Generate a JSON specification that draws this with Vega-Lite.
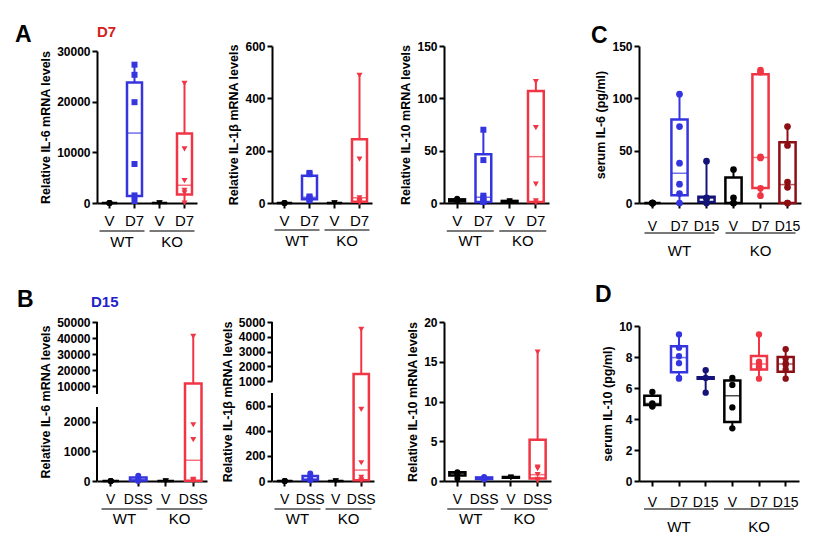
{
"$schema":"https://vega.github.io/schema/vega-lite/v6.json",
"padding":{"left":15,"top":24,"right":5,"bottom":5},
"background":"white",
"config":{"font":"Liberation Sans","view":{"stroke":null},
 "axis":{"domainColor":"black","domainWidth":2,"tickColor":"black","tickWidth":2,"tickSize":5,"labelColor":"black","titleColor":"black","grid":false,"labelOverlap":false},
 "axisY":{"labelFontWeight":"bold","labelFontSize":12,"titleFontWeight":"bold","titleFontSize":12.5,"format":"d"},
 "axisX":{"labelAngle":0,"title":null},
 "bar":{"strokeWidth":2.5},
 "title":{"font":"Liberation Sans","fontWeight":"bold","fontSize":23,"anchor":"start","frame":"group","baseline":"alphabetic","color":"black"}},
"datasets":{
"box":[
{"p":"A1","g":"WT V","min":0,"q1":0,"med":0,"q3":0,"max":0},
{"p":"A1","g":"WT D7","min":0,"q1":1400,"med":13800,"q3":23800,"max":27400},
{"p":"A1","g":"KO V","min":0,"q1":0,"med":0,"q3":0,"max":0},
{"p":"A1","g":"KO D7","min":0,"q1":1700,"med":3500,"q3":13700,"max":23600},
{"p":"A2","g":"WT V","min":0,"q1":0,"med":0,"q3":0,"max":2},
{"p":"A2","g":"WT D7","min":10,"q1":14,"med":22,"q3":104,"max":117},
{"p":"A2","g":"KO V","min":0,"q1":0,"med":0,"q3":0,"max":1},
{"p":"A2","g":"KO D7","min":0,"q1":5,"med":20,"q3":244,"max":488},
{"p":"A3","g":"WT V","min":1,"q1":1.5,"med":2.5,"q3":3.5,"max":4},
{"p":"A3","g":"WT D7","min":0,"q1":1,"med":5.5,"q3":46.6,"max":70},
{"p":"A3","g":"KO V","min":0.5,"q1":1,"med":1.5,"q3":2,"max":2},
{"p":"A3","g":"KO D7","min":0,"q1":1,"med":44.3,"q3":107,"max":116},
{"p":"C","g":"WT V","min":0,"q1":0,"med":0,"q3":0,"max":0},
{"p":"C","g":"WT D7","min":0,"q1":7.3,"med":28.4,"q3":79.8,"max":104},
{"p":"C","g":"WT D15","min":0,"q1":1,"med":4.5,"q3":6,"max":40},
{"p":"C","g":"KO V","min":0,"q1":0,"med":0,"q3":24.3,"max":32.6},
{"p":"C","g":"KO D7","min":7.3,"q1":14.4,"med":43.5,"q3":122.9,"max":127},
{"p":"C","g":"KO D15","min":0,"q1":0,"med":17.6,"q3":58,"max":73.4},
{"p":"B1","g":"WT V","min":0,"q1":0,"med":0,"q3":0,"max":0},
{"p":"B1","g":"WT DSS","min":0,"q1":15,"med":35,"q3":120,"max":200},
{"p":"B1","g":"KO V","min":0,"q1":0,"med":0,"q3":0,"max":0},
{"p":"B1","g":"KO DSS","min":0,"q1":5,"med":700,"q3":11500,"max":41000},
{"p":"B2","g":"WT V","min":0,"q1":0,"med":0,"q3":0,"max":0},
{"p":"B2","g":"WT DSS","min":5,"q1":8,"med":15,"q3":40,"max":60},
{"p":"B2","g":"KO V","min":0,"q1":0,"med":0,"q3":0,"max":0},
{"p":"B2","g":"KO DSS","min":0,"q1":5,"med":87,"q3":1475,"max":4500},
{"p":"B3","g":"WT V","min":0.2,"q1":0.7,"med":0.95,"q3":1.1,"max":1.15},
{"p":"B3","g":"WT DSS","min":0.2,"q1":0.25,"med":0.35,"q3":0.45,"max":0.5},
{"p":"B3","g":"KO V","min":0.35,"q1":0.4,"med":0.45,"q3":0.5,"max":0.5},
{"p":"B3","g":"KO DSS","min":0,"q1":0.3,"med":0.8,"q3":5.2,"max":16.2},
{"p":"D","g":"WT V","min":4.77,"q1":4.9,"med":5.0,"q3":5.5,"max":5.76},
{"p":"D","g":"WT D7","min":6.62,"q1":7.01,"med":7.96,"q3":8.69,"max":9.46},
{"p":"D","g":"WT D15","min":5.7,"q1":6.6,"med":6.65,"q3":6.7,"max":7.14},
{"p":"D","g":"KO V","min":3.42,"q1":3.8,"med":5.5,"q3":6.49,"max":6.67},
{"p":"D","g":"KO D7","min":6.62,"q1":7.2,"med":7.55,"q3":8.06,"max":9.46},
{"p":"D","g":"KO D15","min":6.62,"q1":7.05,"med":7.55,"q3":8.0,"max":8.5}
],
"pts":[
{"p":"A1","g":"WT V","v":0},{"p":"A1","g":"WT V","v":0},{"p":"A1","g":"WT V","v":0},
{"p":"A1","g":"WT D7","v":27300},{"p":"A1","g":"WT D7","v":25300},{"p":"A1","g":"WT D7","v":19900},{"p":"A1","g":"WT D7","v":7700},{"p":"A1","g":"WT D7","v":1500},{"p":"A1","g":"WT D7","v":400},
{"p":"A1","g":"KO V","v":0},{"p":"A1","g":"KO V","v":0},{"p":"A1","g":"KO V","v":0},
{"p":"A1","g":"KO D7","v":23600},{"p":"A1","g":"KO D7","v":10700},{"p":"A1","g":"KO D7","v":4400},{"p":"A1","g":"KO D7","v":2500},{"p":"A1","g":"KO D7","v":2000},{"p":"A1","g":"KO D7","v":0},
{"p":"A2","g":"WT V","v":0},{"p":"A2","g":"WT V","v":0},{"p":"A2","g":"WT V","v":0},
{"p":"A2","g":"WT D7","v":115},{"p":"A2","g":"WT D7","v":110},{"p":"A2","g":"WT D7","v":25},{"p":"A2","g":"WT D7","v":20},{"p":"A2","g":"WT D7","v":15},{"p":"A2","g":"WT D7","v":10},
{"p":"A2","g":"KO V","v":0},{"p":"A2","g":"KO V","v":0},{"p":"A2","g":"KO V","v":0},
{"p":"A2","g":"KO D7","v":488},{"p":"A2","g":"KO D7","v":168},{"p":"A2","g":"KO D7","v":20},{"p":"A2","g":"KO D7","v":10},{"p":"A2","g":"KO D7","v":5},{"p":"A2","g":"KO D7","v":0},
{"p":"A3","g":"WT V","v":4},{"p":"A3","g":"WT V","v":3},{"p":"A3","g":"WT V","v":2},
{"p":"A3","g":"WT D7","v":70},{"p":"A3","g":"WT D7","v":41},{"p":"A3","g":"WT D7","v":7},{"p":"A3","g":"WT D7","v":5},{"p":"A3","g":"WT D7","v":2},{"p":"A3","g":"WT D7","v":1},
{"p":"A3","g":"KO V","v":2},{"p":"A3","g":"KO V","v":1.5},{"p":"A3","g":"KO V","v":1},
{"p":"A3","g":"KO D7","v":116},{"p":"A3","g":"KO D7","v":72},{"p":"A3","g":"KO D7","v":18},{"p":"A3","g":"KO D7","v":2},{"p":"A3","g":"KO D7","v":0},
{"p":"C","g":"WT V","v":0},{"p":"C","g":"WT V","v":0},{"p":"C","g":"WT V","v":0},{"p":"C","g":"WT V","v":0},{"p":"C","g":"WT V","v":0},
{"p":"C","g":"WT D7","v":104},{"p":"C","g":"WT D7","v":73},{"p":"C","g":"WT D7","v":38},{"p":"C","g":"WT D7","v":18},{"p":"C","g":"WT D7","v":9},{"p":"C","g":"WT D7","v":0},
{"p":"C","g":"WT D15","v":40},{"p":"C","g":"WT D15","v":5},{"p":"C","g":"WT D15","v":4},{"p":"C","g":"WT D15","v":0},
{"p":"C","g":"KO V","v":32},{"p":"C","g":"KO V","v":5},{"p":"C","g":"KO V","v":0},{"p":"C","g":"KO V","v":0},
{"p":"C","g":"KO D7","v":127},{"p":"C","g":"KO D7","v":125},{"p":"C","g":"KO D7","v":44},{"p":"C","g":"KO D7","v":43},{"p":"C","g":"KO D7","v":14},{"p":"C","g":"KO D7","v":7},
{"p":"C","g":"KO D15","v":73},{"p":"C","g":"KO D15","v":55},{"p":"C","g":"KO D15","v":20},{"p":"C","g":"KO D15","v":15},{"p":"C","g":"KO D15","v":0},{"p":"C","g":"KO D15","v":0},
{"p":"B1","g":"WT V","v":0},{"p":"B1","g":"WT V","v":0},{"p":"B1","g":"WT V","v":0},
{"p":"B1","g":"WT DSS","v":180},{"p":"B1","g":"WT DSS","v":60},{"p":"B1","g":"WT DSS","v":20},{"p":"B1","g":"WT DSS","v":0},
{"p":"B1","g":"KO V","v":0},{"p":"B1","g":"KO V","v":0},{"p":"B1","g":"KO V","v":0},
{"p":"B1","g":"KO DSS","v":41000},{"p":"B1","g":"KO DSS","v":1900},{"p":"B1","g":"KO DSS","v":1400},{"p":"B1","g":"KO DSS","v":60},{"p":"B1","g":"KO DSS","v":20},{"p":"B1","g":"KO DSS","v":0},
{"p":"B2","g":"WT V","v":0},{"p":"B2","g":"WT V","v":0},{"p":"B2","g":"WT V","v":0},
{"p":"B2","g":"WT DSS","v":60},{"p":"B2","g":"WT DSS","v":20},{"p":"B2","g":"WT DSS","v":10},{"p":"B2","g":"WT DSS","v":5},
{"p":"B2","g":"KO V","v":0},{"p":"B2","g":"KO V","v":0},{"p":"B2","g":"KO V","v":0},
{"p":"B2","g":"KO DSS","v":4500},{"p":"B2","g":"KO DSS","v":570},{"p":"B2","g":"KO DSS","v":145},{"p":"B2","g":"KO DSS","v":30},{"p":"B2","g":"KO DSS","v":10},{"p":"B2","g":"KO DSS","v":0},
{"p":"B3","g":"WT V","v":1.1},{"p":"B3","g":"WT V","v":1.0},{"p":"B3","g":"WT V","v":0.9},{"p":"B3","g":"WT V","v":0.3},
{"p":"B3","g":"WT DSS","v":0.5},{"p":"B3","g":"WT DSS","v":0.4},{"p":"B3","g":"WT DSS","v":0.3},{"p":"B3","g":"WT DSS","v":0.2},
{"p":"B3","g":"KO V","v":0.5},{"p":"B3","g":"KO V","v":0.45},{"p":"B3","g":"KO V","v":0.4},
{"p":"B3","g":"KO DSS","v":16.2},{"p":"B3","g":"KO DSS","v":1.75},{"p":"B3","g":"KO DSS","v":1.55},{"p":"B3","g":"KO DSS","v":0.8},{"p":"B3","g":"KO DSS","v":0.2},{"p":"B3","g":"KO DSS","v":0},
{"p":"D","g":"WT V","v":5.75},{"p":"D","g":"WT V","v":5.0},{"p":"D","g":"WT V","v":4.95},{"p":"D","g":"WT V","v":4.85},{"p":"D","g":"WT V","v":4.8},
{"p":"D","g":"WT D7","v":9.45},{"p":"D","g":"WT D7","v":8.6},{"p":"D","g":"WT D7","v":8.05},{"p":"D","g":"WT D7","v":7.6},{"p":"D","g":"WT D7","v":6.65},{"p":"D","g":"WT D7","v":6.6},
{"p":"D","g":"WT D15","v":7.15},{"p":"D","g":"WT D15","v":6.65},{"p":"D","g":"WT D15","v":5.7},
{"p":"D","g":"KO V","v":6.65},{"p":"D","g":"KO V","v":6.2},{"p":"D","g":"KO V","v":4.75},{"p":"D","g":"KO V","v":3.4},
{"p":"D","g":"KO D7","v":9.45},{"p":"D","g":"KO D7","v":7.7},{"p":"D","g":"KO D7","v":7.6},{"p":"D","g":"KO D7","v":7.4},{"p":"D","g":"KO D7","v":7.3},{"p":"D","g":"KO D7","v":6.6},
{"p":"D","g":"KO D15","v":8.5},{"p":"D","g":"KO D15","v":7.9},{"p":"D","g":"KO D15","v":7.6},{"p":"D","g":"KO D15","v":7.5},{"p":"D","g":"KO D15","v":7.2},{"p":"D","g":"KO D15","v":6.6}
]
},
"columns":4,
"spacing":{"row":119,"column":60},
"bounds":"flush",
"concat":[
  {"width":114.5,"height":157,
   "title":{"text":"A","dx":-82,"offset":-22},
   "resolve":{"scale":{"x":"independent"}},
   "layer":[
    {"encoding":{"x":{"field":"g","type":"nominal","scale":{"domain":["WT V","WT D7","KO V","KO D7"],"range":[0,100],"paddingInner":0,"paddingOuter":0},"axis":{"labelExpr":"split(datum.label,' ')[1]","labelFontSize":15,"labelPadding":5}}},
     "layer":[
      {"data":{"name":"box"},"transform":[{"filter":"datum.p=='A1'"}],"mark":{"type":"rule","strokeWidth":2},
       "encoding":{"y":{"field":"min","type":"quantitative","title":"Relative  IL-6 mRNA levels","scale":{"domain":[0,30000],"range":[157,5],"nice":false,"zero":false},"axis":{"values":[0,10000,20000,30000],"tickCount":30,"labelOverlap":false}},"y2":{"field":"max"},
       "color":{"field":"g","type":"nominal","scale":{"domain":["WT V","WT D7","WT DSS","WT D15","KO V","KO D7","KO DSS","KO D15"],"range":["#000000","#3535e0","#3535e0","#141478","#000000","#f03545","#f03545","#8c0f14"]},"legend":null}}},
      {"data":{"name":"box"},"transform":[{"filter":"datum.p=='A1'"}],"mark":{"type":"bar","fill":"white","strokeWidth":2.5,"width":{"band":0.6}},
       "encoding":{"y":{"field":"q1","type":"quantitative","title":"Relative  IL-6 mRNA levels"},"y2":{"field":"q3"},
       "stroke":{"field":"g","type":"nominal","scale":{"domain":["WT V","WT D7","WT DSS","WT D15","KO V","KO D7","KO DSS","KO D15"],"range":["#000000","#3535e0","#3535e0","#141478","#000000","#f03545","#f03545","#8c0f14"]},"legend":null}}},
      {"data":{"name":"box"},"transform":[{"filter":"datum.p=='A1'"}],"mark":{"type":"tick","orient":"horizontal","thickness":1.5,"size":16},
       "encoding":{"y":{"field":"med","type":"quantitative","title":"Relative  IL-6 mRNA levels"},
       "color":{"field":"g","type":"nominal","scale":{"domain":["WT V","WT D7","WT DSS","WT D15","KO V","KO D7","KO DSS","KO D15"],"range":["#000000","#3535e0","#3535e0","#141478","#000000","#f03545","#f03545","#8c0f14"]},"legend":null}}},
      {"data":{"name":"pts"},"transform":[{"filter":"datum.p=='A1'"}],"mark":{"type":"point","filled":true,"size":36,"opacity":1},
       "encoding":{"y":{"field":"v","type":"quantitative","title":"Relative  IL-6 mRNA levels"},
       "color":{"field":"g","type":"nominal","scale":{"domain":["WT V","WT D7","WT DSS","WT D15","KO V","KO D7","KO DSS","KO D15"],"range":["#000000","#3535e0","#3535e0","#141478","#000000","#f03545","#f03545","#8c0f14"]},"legend":null},
       "shape":{"field":"g","type":"nominal","scale":{"domain":["WT V","WT D7","WT DSS","WT D15","KO V","KO D7","KO DSS","KO D15"],"range":["circle","square","circle","circle","triangle-down","triangle-down","triangle-down","triangle-down"]},"legend":null}}}
     ]},
    {"encoding":{"x":{"field":"geno","type":"nominal","scale":{"domain":["WT","KO"],"range":[0,100],"paddingInner":0,"paddingOuter":0},"axis":null}},
     "layer":[
      {"data":{"values":[{"geno":"WT"},{"geno":"KO"}]},"mark":{"type":"tick","orient":"horizontal","size":45,"thickness":1.5,"color":"black"},"encoding":{"y":{"datum":-5527,"title":"Relative  IL-6 mRNA levels"}}},
      {"data":{"values":[{"geno":"WT"},{"geno":"KO"}]},"mark":{"type":"text","fontSize":15,"baseline":"alphabetic","color":"black"},"encoding":{"y":{"datum":-8684,"title":"Relative  IL-6 mRNA levels"},"text":{"field":"geno"}}},
      {"data":{"values":[{"lab":"D7"}]},"mark":{"type":"text","fontSize":15,"fontWeight":"bold","align":"left","baseline":"alphabetic","color":"#d42020"},"encoding":{"x":{"datum":"WT","bandPosition":0},"y":{"datum":32760,"title":"Relative  IL-6 mRNA levels"},"text":{"field":"lab"}}}
     ]}
   ]},
  {"width":111.5,"height":157,
   "resolve":{"scale":{"x":"independent"}},
   "layer":[
    {"encoding":{"x":{"field":"g","type":"nominal","scale":{"domain":["WT V","WT D7","KO V","KO D7"],"range":[0,100],"paddingInner":0,"paddingOuter":0},"axis":{"labelExpr":"split(datum.label,' ')[1]","labelFontSize":15,"labelPadding":5}}},
     "layer":[
      {"data":{"name":"box"},"transform":[{"filter":"datum.p=='A2'"}],"mark":{"type":"rule","strokeWidth":2},
       "encoding":{"y":{"field":"min","type":"quantitative","title":"Relative  IL-1β mRNA levels","scale":{"domain":[0,600],"nice":false,"zero":false},"axis":{"values":[0,200,400,600],"tickCount":30,"labelOverlap":false}},"y2":{"field":"max"},
       "color":{"field":"g","type":"nominal","scale":{"domain":["WT V","WT D7","WT DSS","WT D15","KO V","KO D7","KO DSS","KO D15"],"range":["#000000","#3535e0","#3535e0","#141478","#000000","#f03545","#f03545","#8c0f14"]},"legend":null}}},
      {"data":{"name":"box"},"transform":[{"filter":"datum.p=='A2'"}],"mark":{"type":"bar","fill":"white","strokeWidth":2.5,"width":{"band":0.6}},
       "encoding":{"y":{"field":"q1","type":"quantitative","title":"Relative  IL-1β mRNA levels"},"y2":{"field":"q3"},
       "stroke":{"field":"g","type":"nominal","scale":{"domain":["WT V","WT D7","WT DSS","WT D15","KO V","KO D7","KO DSS","KO D15"],"range":["#000000","#3535e0","#3535e0","#141478","#000000","#f03545","#f03545","#8c0f14"]},"legend":null}}},
      {"data":{"name":"box"},"transform":[{"filter":"datum.p=='A2'"}],"mark":{"type":"tick","orient":"horizontal","thickness":1.5,"size":16},
       "encoding":{"y":{"field":"med","type":"quantitative","title":"Relative  IL-1β mRNA levels"},
       "color":{"field":"g","type":"nominal","scale":{"domain":["WT V","WT D7","WT DSS","WT D15","KO V","KO D7","KO DSS","KO D15"],"range":["#000000","#3535e0","#3535e0","#141478","#000000","#f03545","#f03545","#8c0f14"]},"legend":null}}},
      {"data":{"name":"pts"},"transform":[{"filter":"datum.p=='A2'"}],"mark":{"type":"point","filled":true,"size":36,"opacity":1},
       "encoding":{"y":{"field":"v","type":"quantitative","title":"Relative  IL-1β mRNA levels"},
       "color":{"field":"g","type":"nominal","scale":{"domain":["WT V","WT D7","WT DSS","WT D15","KO V","KO D7","KO DSS","KO D15"],"range":["#000000","#3535e0","#3535e0","#141478","#000000","#f03545","#f03545","#8c0f14"]},"legend":null},
       "shape":{"field":"g","type":"nominal","scale":{"domain":["WT V","WT D7","WT DSS","WT D15","KO V","KO D7","KO DSS","KO D15"],"range":["circle","square","circle","circle","triangle-down","triangle-down","triangle-down","triangle-down"]},"legend":null}}}
     ]},
    {"data":{"values":[{"geno":"WT"},{"geno":"KO"}]},
     "encoding":{"x":{"field":"geno","type":"nominal","scale":{"domain":["WT","KO"],"range":[0,100],"paddingInner":0,"paddingOuter":0},"axis":null}},
     "layer":[
      {"mark":{"type":"tick","orient":"horizontal","size":45,"thickness":1.5,"color":"black"},"encoding":{"y":{"datum":-103,"title":"Relative  IL-1β mRNA levels"}}},
      {"mark":{"type":"text","fontSize":15,"baseline":"alphabetic","color":"black"},"encoding":{"y":{"datum":-164,"title":"Relative  IL-1β mRNA levels"},"text":{"field":"geno"}}}
     ]}
   ]},
  {"width":134.5,"height":157,
   "resolve":{"scale":{"x":"independent"}},
   "layer":[
    {"encoding":{"x":{"field":"g","type":"nominal","scale":{"domain":["WT V","WT D7","KO V","KO D7"],"range":[0,105],"paddingInner":0,"paddingOuter":0},"axis":{"labelExpr":"split(datum.label,' ')[1]","labelFontSize":15,"labelPadding":5}}},
     "layer":[
      {"data":{"name":"box"},"transform":[{"filter":"datum.p=='A3'"}],"mark":{"type":"rule","strokeWidth":2},
       "encoding":{"y":{"field":"min","type":"quantitative","title":"Relative IL-10 mRNA levels","scale":{"domain":[0,150],"nice":false,"zero":false},"axis":{"values":[0,50,100,150],"tickCount":30,"labelOverlap":false}},"y2":{"field":"max"},
       "color":{"field":"g","type":"nominal","scale":{"domain":["WT V","WT D7","WT DSS","WT D15","KO V","KO D7","KO DSS","KO D15"],"range":["#000000","#3535e0","#3535e0","#141478","#000000","#f03545","#f03545","#8c0f14"]},"legend":null}}},
      {"data":{"name":"box"},"transform":[{"filter":"datum.p=='A3'"}],"mark":{"type":"bar","fill":"white","strokeWidth":2.5,"width":{"band":0.6}},
       "encoding":{"y":{"field":"q1","type":"quantitative","title":"Relative IL-10 mRNA levels"},"y2":{"field":"q3"},
       "stroke":{"field":"g","type":"nominal","scale":{"domain":["WT V","WT D7","WT DSS","WT D15","KO V","KO D7","KO DSS","KO D15"],"range":["#000000","#3535e0","#3535e0","#141478","#000000","#f03545","#f03545","#8c0f14"]},"legend":null}}},
      {"data":{"name":"box"},"transform":[{"filter":"datum.p=='A3'"}],"mark":{"type":"tick","orient":"horizontal","thickness":1.5,"size":16},
       "encoding":{"y":{"field":"med","type":"quantitative","title":"Relative IL-10 mRNA levels"},
       "color":{"field":"g","type":"nominal","scale":{"domain":["WT V","WT D7","WT DSS","WT D15","KO V","KO D7","KO DSS","KO D15"],"range":["#000000","#3535e0","#3535e0","#141478","#000000","#f03545","#f03545","#8c0f14"]},"legend":null}}},
      {"data":{"name":"pts"},"transform":[{"filter":"datum.p=='A3'"}],"mark":{"type":"point","filled":true,"size":36,"opacity":1},
       "encoding":{"y":{"field":"v","type":"quantitative","title":"Relative IL-10 mRNA levels"},
       "color":{"field":"g","type":"nominal","scale":{"domain":["WT V","WT D7","WT DSS","WT D15","KO V","KO D7","KO DSS","KO D15"],"range":["#000000","#3535e0","#3535e0","#141478","#000000","#f03545","#f03545","#8c0f14"]},"legend":null},
       "shape":{"field":"g","type":"nominal","scale":{"domain":["WT V","WT D7","WT DSS","WT D15","KO V","KO D7","KO DSS","KO D15"],"range":["circle","square","circle","circle","triangle-down","triangle-down","triangle-down","triangle-down"]},"legend":null}}}
     ]},
    {"data":{"values":[{"geno":"WT"},{"geno":"KO"}]},
     "encoding":{"x":{"field":"geno","type":"nominal","scale":{"domain":["WT","KO"],"range":[0,105],"paddingInner":0,"paddingOuter":0},"axis":null}},
     "layer":[
      {"mark":{"type":"tick","orient":"horizontal","size":47,"thickness":1.5,"color":"black"},"encoding":{"y":{"datum":-26.75,"title":"Relative IL-10 mRNA levels"}}},
      {"mark":{"type":"text","fontSize":15,"baseline":"alphabetic","color":"black"},"encoding":{"y":{"datum":-41.1,"title":"Relative IL-10 mRNA levels"},"text":{"field":"geno"}}}
     ]}
   ]},
  {"width":162,"height":157,
   "title":{"text":"C","dx":-48,"offset":-8},
   "resolve":{"scale":{"x":"independent"}},
   "layer":[
    {"encoding":{"x":{"field":"g","type":"nominal","scale":{"domain":["WT V","WT D7","WT D15","KO V","KO D7","KO D15"],"range":[0,162],"paddingInner":0,"paddingOuter":0},"axis":{"labelExpr":"split(datum.label,' ')[1]","labelFontSize":14,"labelPadding":11}}},
     "layer":[
      {"data":{"name":"box"},"transform":[{"filter":"datum.p=='C'"}],"mark":{"type":"rule","strokeWidth":2},
       "encoding":{"y":{"field":"min","type":"quantitative","title":"serum IL-6  (pg/ml)","scale":{"domain":[0,150],"nice":false,"zero":false},"axis":{"values":[0,50,100,150],"tickCount":30,"labelOverlap":false}},"y2":{"field":"max"},
       "color":{"field":"g","type":"nominal","scale":{"domain":["WT V","WT D7","WT DSS","WT D15","KO V","KO D7","KO DSS","KO D15"],"range":["#000000","#3535e0","#3535e0","#141478","#000000","#f03545","#f03545","#8c0f14"]},"legend":null}}},
      {"data":{"name":"box"},"transform":[{"filter":"datum.p=='C'"}],"mark":{"type":"bar","fill":"white","strokeWidth":2.5,"width":{"band":0.6}},
       "encoding":{"y":{"field":"q1","type":"quantitative","title":"serum IL-6  (pg/ml)"},"y2":{"field":"q3"},
       "stroke":{"field":"g","type":"nominal","scale":{"domain":["WT V","WT D7","WT DSS","WT D15","KO V","KO D7","KO DSS","KO D15"],"range":["#000000","#3535e0","#3535e0","#141478","#000000","#f03545","#f03545","#8c0f14"]},"legend":null}}},
      {"data":{"name":"box"},"transform":[{"filter":"datum.p=='C'"}],"mark":{"type":"tick","orient":"horizontal","thickness":1.5,"size":16},
       "encoding":{"y":{"field":"med","type":"quantitative","title":"serum IL-6  (pg/ml)"},
       "color":{"field":"g","type":"nominal","scale":{"domain":["WT V","WT D7","WT DSS","WT D15","KO V","KO D7","KO DSS","KO D15"],"range":["#000000","#3535e0","#3535e0","#141478","#000000","#f03545","#f03545","#8c0f14"]},"legend":null}}},
      {"data":{"name":"pts"},"transform":[{"filter":"datum.p=='C'"}],"mark":{"type":"point","filled":true,"size":45,"opacity":1},
       "encoding":{"y":{"field":"v","type":"quantitative","title":"serum IL-6  (pg/ml)"},
       "color":{"field":"g","type":"nominal","scale":{"domain":["WT V","WT D7","WT DSS","WT D15","KO V","KO D7","KO DSS","KO D15"],"range":["#000000","#3535e0","#3535e0","#141478","#000000","#f03545","#f03545","#8c0f14"]},"legend":null}}}
     ]},
    {"data":{"values":[{"geno":"WT"},{"geno":"KO"}]},
     "encoding":{"x":{"field":"geno","type":"nominal","scale":{"domain":["WT","KO"],"range":[0,162],"paddingInner":0,"paddingOuter":0},"axis":null}},
     "layer":[
      {"mark":{"type":"tick","orient":"horizontal","size":70,"thickness":1.5,"color":"black"},"encoding":{"y":{"datum":-28.66,"title":"serum IL-6  (pg/ml)"}}},
      {"mark":{"type":"text","fontSize":15,"baseline":"alphabetic","color":"black"},"encoding":{"y":{"datum":-50.6,"title":"serum IL-6  (pg/ml)"},"text":{"field":"geno"}}}
     ]}
   ]},
  {"width":114.5,"height":159,
   "title":{"text":"B","dx":-80,"offset":-17},
   "resolve":{"scale":{"x":"independent"}},
   "layer":[
    {"encoding":{"x":{"field":"g","type":"nominal","scale":{"domain":["WT V","WT DSS","KO V","KO DSS"],"range":[0,110],"paddingInner":0,"paddingOuter":0},"axis":{"labelExpr":"split(datum.label,' ')[1]","labelFontSize":14,"labelPadding":6}}},
     "layer":[
      {"data":{"values":[{"a":0,"b":2500},{"a":5000,"b":50000}]},"mark":{"type":"rule","strokeWidth":2,"color":"black"},
       "encoding":{"x":{"value":0},"y":{"field":"a","type":"quantitative","title":"Relative IL-6 mRNA levels","scale":{"domain":[0,2500,5000,50000],"range":[159,85,72,0],"nice":false,"zero":false},"axis":{"values":[0,1000,2000,10000,20000,30000,40000,50000],"tickCount":30,"domain":false,"labelOverlap":false}},"y2":{"field":"b"}}},
      {"data":{"name":"box"},"transform":[{"filter":"datum.p=='B1'"}],"mark":{"type":"rule","strokeWidth":2},
       "encoding":{"y":{"field":"min","type":"quantitative","title":"Relative IL-6 mRNA levels"},"y2":{"field":"max"},
       "color":{"field":"g","type":"nominal","scale":{"domain":["WT V","WT D7","WT DSS","WT D15","KO V","KO D7","KO DSS","KO D15"],"range":["#000000","#3535e0","#3535e0","#141478","#000000","#f03545","#f03545","#8c0f14"]},"legend":null}}},
      {"data":{"name":"box"},"transform":[{"filter":"datum.p=='B1'"}],"mark":{"type":"bar","fill":"white","strokeWidth":2.5,"width":{"band":0.6}},
       "encoding":{"y":{"field":"q1","type":"quantitative","title":"Relative IL-6 mRNA levels"},"y2":{"field":"q3"},
       "stroke":{"field":"g","type":"nominal","scale":{"domain":["WT V","WT D7","WT DSS","WT D15","KO V","KO D7","KO DSS","KO D15"],"range":["#000000","#3535e0","#3535e0","#141478","#000000","#f03545","#f03545","#8c0f14"]},"legend":null}}},
      {"data":{"name":"box"},"transform":[{"filter":"datum.p=='B1'"}],"mark":{"type":"tick","orient":"horizontal","thickness":1.5,"size":16},
       "encoding":{"y":{"field":"med","type":"quantitative","title":"Relative IL-6 mRNA levels"},
       "color":{"field":"g","type":"nominal","scale":{"domain":["WT V","WT D7","WT DSS","WT D15","KO V","KO D7","KO DSS","KO D15"],"range":["#000000","#3535e0","#3535e0","#141478","#000000","#f03545","#f03545","#8c0f14"]},"legend":null}}},
      {"data":{"name":"pts"},"transform":[{"filter":"datum.p=='B1'"}],"mark":{"type":"point","filled":true,"size":36,"opacity":1},
       "encoding":{"y":{"field":"v","type":"quantitative","title":"Relative IL-6 mRNA levels"},
       "color":{"field":"g","type":"nominal","scale":{"domain":["WT V","WT D7","WT DSS","WT D15","KO V","KO D7","KO DSS","KO D15"],"range":["#000000","#3535e0","#3535e0","#141478","#000000","#f03545","#f03545","#8c0f14"]},"legend":null},
       "shape":{"field":"g","type":"nominal","scale":{"domain":["WT V","WT D7","WT DSS","WT D15","KO V","KO D7","KO DSS","KO D15"],"range":["circle","square","circle","circle","triangle-down","triangle-down","triangle-down","triangle-down"]},"legend":null}}}
     ]},
    {"encoding":{"x":{"field":"geno","type":"nominal","scale":{"domain":["WT","KO"],"range":[0,110],"paddingInner":0,"paddingOuter":0},"axis":null}},
     "layer":[
      {"data":{"values":[{"geno":"WT"},{"geno":"KO"}]},"mark":{"type":"tick","orient":"horizontal","size":46,"thickness":1.5,"color":"black"},"encoding":{"y":{"datum":-946,"title":"Relative IL-6 mRNA levels"}}},
      {"data":{"values":[{"geno":"WT"},{"geno":"KO"}]},"mark":{"type":"text","fontSize":15,"baseline":"alphabetic","color":"black"},"encoding":{"y":{"datum":-1453,"title":"Relative IL-6 mRNA levels"},"text":{"field":"geno"}}},
      {"data":{"values":[{"lab":"D15"}]},"mark":{"type":"text","fontSize":15,"fontWeight":"bold","align":"left","baseline":"alphabetic","dx":-6,"color":"#2323c8"},"encoding":{"x":{"datum":"WT","bandPosition":0},"y":{"datum":59375,"title":"Relative IL-6 mRNA levels"},"text":{"field":"lab"}}}
     ]}
   ]},
  {"width":111.5,"height":159,
   "resolve":{"scale":{"x":"independent"}},
   "layer":[
    {"encoding":{"x":{"field":"g","type":"nominal","scale":{"domain":["WT V","WT DSS","KO V","KO DSS"],"range":[0,102],"paddingInner":0,"paddingOuter":0},"axis":{"labelExpr":"split(datum.label,' ')[1]","labelFontSize":14,"labelPadding":6}}},
     "layer":[
      {"data":{"values":[{"a":0,"b":700},{"a":1000,"b":5000}]},"mark":{"type":"rule","strokeWidth":2,"color":"black"},
       "encoding":{"x":{"value":0},"y":{"field":"a","type":"quantitative","title":"Relative  IL-1β mRNA levels","scale":{"domain":[0,700,1000,5000],"range":[159,71,59,0],"nice":false,"zero":false},"axis":{"values":[0,200,400,600,1000,2000,3000,4000,5000],"tickCount":30,"domain":false,"labelOverlap":false}},"y2":{"field":"b"}}},
      {"data":{"name":"box"},"transform":[{"filter":"datum.p=='B2'"}],"mark":{"type":"rule","strokeWidth":2},
       "encoding":{"y":{"field":"min","type":"quantitative","title":"Relative  IL-1β mRNA levels"},"y2":{"field":"max"},
       "color":{"field":"g","type":"nominal","scale":{"domain":["WT V","WT D7","WT DSS","WT D15","KO V","KO D7","KO DSS","KO D15"],"range":["#000000","#3535e0","#3535e0","#141478","#000000","#f03545","#f03545","#8c0f14"]},"legend":null}}},
      {"data":{"name":"box"},"transform":[{"filter":"datum.p=='B2'"}],"mark":{"type":"bar","fill":"white","strokeWidth":2.5,"width":{"band":0.6}},
       "encoding":{"y":{"field":"q1","type":"quantitative","title":"Relative  IL-1β mRNA levels"},"y2":{"field":"q3"},
       "stroke":{"field":"g","type":"nominal","scale":{"domain":["WT V","WT D7","WT DSS","WT D15","KO V","KO D7","KO DSS","KO D15"],"range":["#000000","#3535e0","#3535e0","#141478","#000000","#f03545","#f03545","#8c0f14"]},"legend":null}}},
      {"data":{"name":"box"},"transform":[{"filter":"datum.p=='B2'"}],"mark":{"type":"tick","orient":"horizontal","thickness":1.5,"size":16},
       "encoding":{"y":{"field":"med","type":"quantitative","title":"Relative  IL-1β mRNA levels"},
       "color":{"field":"g","type":"nominal","scale":{"domain":["WT V","WT D7","WT DSS","WT D15","KO V","KO D7","KO DSS","KO D15"],"range":["#000000","#3535e0","#3535e0","#141478","#000000","#f03545","#f03545","#8c0f14"]},"legend":null}}},
      {"data":{"name":"pts"},"transform":[{"filter":"datum.p=='B2'"}],"mark":{"type":"point","filled":true,"size":36,"opacity":1},
       "encoding":{"y":{"field":"v","type":"quantitative","title":"Relative  IL-1β mRNA levels"},
       "color":{"field":"g","type":"nominal","scale":{"domain":["WT V","WT D7","WT DSS","WT D15","KO V","KO D7","KO DSS","KO D15"],"range":["#000000","#3535e0","#3535e0","#141478","#000000","#f03545","#f03545","#8c0f14"]},"legend":null},
       "shape":{"field":"g","type":"nominal","scale":{"domain":["WT V","WT D7","WT DSS","WT D15","KO V","KO D7","KO DSS","KO D15"],"range":["circle","square","circle","circle","triangle-down","triangle-down","triangle-down","triangle-down"]},"legend":null}}}
     ]},
    {"data":{"values":[{"geno":"WT"},{"geno":"KO"}]},
     "encoding":{"x":{"field":"geno","type":"nominal","scale":{"domain":["WT","KO"],"range":[0,102],"paddingInner":0,"paddingOuter":0},"axis":null}},
     "layer":[
      {"mark":{"type":"tick","orient":"horizontal","size":46,"thickness":1.5,"color":"black"},"encoding":{"y":{"datum":-222.7,"title":"Relative  IL-1β mRNA levels"}}},
      {"mark":{"type":"text","fontSize":15,"baseline":"alphabetic","color":"black"},"encoding":{"y":{"datum":-342,"title":"Relative  IL-1β mRNA levels"},"text":{"field":"geno"}}}
     ]}
   ]},
  {"width":134.5,"height":159,
   "resolve":{"scale":{"x":"independent"}},
   "layer":[
    {"encoding":{"x":{"field":"g","type":"nominal","scale":{"domain":["WT V","WT DSS","KO V","KO DSS"],"range":[0,107],"paddingInner":0,"paddingOuter":0},"axis":{"labelExpr":"split(datum.label,' ')[1]","labelFontSize":14,"labelPadding":6}}},
     "layer":[
      {"data":{"name":"box"},"transform":[{"filter":"datum.p=='B3'"}],"mark":{"type":"rule","strokeWidth":2},
       "encoding":{"y":{"field":"min","type":"quantitative","title":"Relative IL-10 mRNA levels","scale":{"domain":[0,20],"nice":false,"zero":false},"axis":{"values":[0,5,10,15,20],"tickCount":30,"labelOverlap":false}},"y2":{"field":"max"},
       "color":{"field":"g","type":"nominal","scale":{"domain":["WT V","WT D7","WT DSS","WT D15","KO V","KO D7","KO DSS","KO D15"],"range":["#000000","#3535e0","#3535e0","#141478","#000000","#f03545","#f03545","#8c0f14"]},"legend":null}}},
      {"data":{"name":"box"},"transform":[{"filter":"datum.p=='B3'"}],"mark":{"type":"bar","fill":"white","strokeWidth":2.5,"width":{"band":0.6}},
       "encoding":{"y":{"field":"q1","type":"quantitative","title":"Relative IL-10 mRNA levels"},"y2":{"field":"q3"},
       "stroke":{"field":"g","type":"nominal","scale":{"domain":["WT V","WT D7","WT DSS","WT D15","KO V","KO D7","KO DSS","KO D15"],"range":["#000000","#3535e0","#3535e0","#141478","#000000","#f03545","#f03545","#8c0f14"]},"legend":null}}},
      {"data":{"name":"box"},"transform":[{"filter":"datum.p=='B3'"}],"mark":{"type":"tick","orient":"horizontal","thickness":1.5,"size":16},
       "encoding":{"y":{"field":"med","type":"quantitative","title":"Relative IL-10 mRNA levels"},
       "color":{"field":"g","type":"nominal","scale":{"domain":["WT V","WT D7","WT DSS","WT D15","KO V","KO D7","KO DSS","KO D15"],"range":["#000000","#3535e0","#3535e0","#141478","#000000","#f03545","#f03545","#8c0f14"]},"legend":null}}},
      {"data":{"name":"pts"},"transform":[{"filter":"datum.p=='B3'"}],"mark":{"type":"point","filled":true,"size":36,"opacity":1},
       "encoding":{"y":{"field":"v","type":"quantitative","title":"Relative IL-10 mRNA levels"},
       "color":{"field":"g","type":"nominal","scale":{"domain":["WT V","WT D7","WT DSS","WT D15","KO V","KO D7","KO DSS","KO D15"],"range":["#000000","#3535e0","#3535e0","#141478","#000000","#f03545","#f03545","#8c0f14"]},"legend":null},
       "shape":{"field":"g","type":"nominal","scale":{"domain":["WT V","WT D7","WT DSS","WT D15","KO V","KO D7","KO DSS","KO D15"],"range":["circle","square","circle","circle","triangle-down","triangle-down","triangle-down","triangle-down"]},"legend":null}}}
     ]},
    {"data":{"values":[{"geno":"WT"},{"geno":"KO"}]},
     "encoding":{"x":{"field":"geno","type":"nominal","scale":{"domain":["WT","KO"],"range":[0,107],"paddingInner":0,"paddingOuter":0},"axis":null}},
     "layer":[
      {"mark":{"type":"tick","orient":"horizontal","size":47,"thickness":1.5,"color":"black"},"encoding":{"y":{"datum":-3.52,"title":"Relative IL-10 mRNA levels"}}},
      {"mark":{"type":"text","fontSize":15,"baseline":"alphabetic","color":"black"},"encoding":{"y":{"datum":-5.41,"title":"Relative IL-10 mRNA levels"},"text":{"field":"geno"}}}
     ]}
   ]},
  {"width":162,"height":159,
   "title":{"text":"D","dx":-44,"offset":13},
   "resolve":{"scale":{"x":"independent"}},
   "layer":[
    {"encoding":{"x":{"field":"g","type":"nominal","scale":{"domain":["WT V","WT D7","WT D15","KO V","KO D7","KO D15"],"range":[0,160],"paddingInner":0,"paddingOuter":0},"axis":{"labelExpr":"split(datum.label,' ')[1]","labelFontSize":14,"labelPadding":9}}},
     "layer":[
      {"data":{"name":"box"},"transform":[{"filter":"datum.p=='D'"}],"mark":{"type":"rule","strokeWidth":2},
       "encoding":{"y":{"field":"min","type":"quantitative","title":"serum IL-10 (pg/ml)","scale":{"domain":[0,10],"range":[159,4],"nice":false,"zero":false},"axis":{"values":[0,2,4,6,8,10],"tickCount":30,"labelOverlap":false}},"y2":{"field":"max"},
       "color":{"field":"g","type":"nominal","scale":{"domain":["WT V","WT D7","WT DSS","WT D15","KO V","KO D7","KO DSS","KO D15"],"range":["#000000","#3535e0","#3535e0","#141478","#000000","#f03545","#f03545","#8c0f14"]},"legend":null}}},
      {"data":{"name":"box"},"transform":[{"filter":"datum.p=='D'"}],"mark":{"type":"bar","fill":"white","strokeWidth":2.5,"width":{"band":0.6}},
       "encoding":{"y":{"field":"q1","type":"quantitative","title":"serum IL-10 (pg/ml)"},"y2":{"field":"q3"},
       "stroke":{"field":"g","type":"nominal","scale":{"domain":["WT V","WT D7","WT DSS","WT D15","KO V","KO D7","KO DSS","KO D15"],"range":["#000000","#3535e0","#3535e0","#141478","#000000","#f03545","#f03545","#8c0f14"]},"legend":null}}},
      {"data":{"name":"box"},"transform":[{"filter":"datum.p=='D'"}],"mark":{"type":"tick","orient":"horizontal","thickness":1.5,"size":16},
       "encoding":{"y":{"field":"med","type":"quantitative","title":"serum IL-10 (pg/ml)"},
       "color":{"field":"g","type":"nominal","scale":{"domain":["WT V","WT D7","WT DSS","WT D15","KO V","KO D7","KO DSS","KO D15"],"range":["#000000","#3535e0","#3535e0","#141478","#000000","#f03545","#f03545","#8c0f14"]},"legend":null}}},
      {"data":{"name":"pts"},"transform":[{"filter":"datum.p=='D'"}],"mark":{"type":"point","filled":true,"size":40,"opacity":1},
       "encoding":{"y":{"field":"v","type":"quantitative","title":"serum IL-10 (pg/ml)"},
       "color":{"field":"g","type":"nominal","scale":{"domain":["WT V","WT D7","WT DSS","WT D15","KO V","KO D7","KO DSS","KO D15"],"range":["#000000","#3535e0","#3535e0","#141478","#000000","#f03545","#f03545","#8c0f14"]},"legend":null}}}
     ]},
    {"data":{"values":[{"geno":"WT"},{"geno":"KO"}]},
     "encoding":{"x":{"field":"geno","type":"nominal","scale":{"domain":["WT","KO"],"range":[0,160],"paddingInner":0,"paddingOuter":0},"axis":null}},
     "layer":[
      {"mark":{"type":"tick","orient":"horizontal","size":70,"thickness":1.5,"color":"black"},"encoding":{"y":{"datum":-1.806,"title":"serum IL-10 (pg/ml)"}}},
      {"mark":{"type":"text","fontSize":15,"baseline":"alphabetic","color":"black"},"encoding":{"y":{"datum":-3.29,"title":"serum IL-10 (pg/ml)"},"text":{"field":"geno"}}}
     ]}
   ]}
]
}
